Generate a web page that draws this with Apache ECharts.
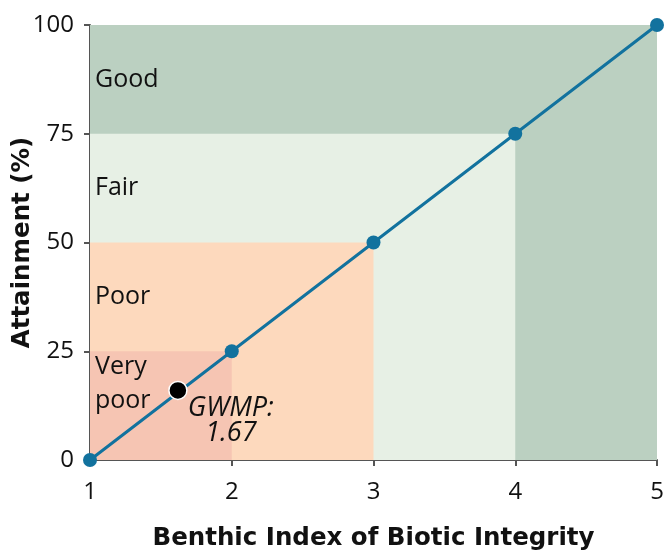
<!DOCTYPE html>
<html><head><meta charset="utf-8">
<script src="https://cdn.jsdelivr.net/npm/echarts@6/dist/echarts.min.js"></script>
<style>html,body{margin:0;padding:0;background:#fff}#c{width:665px;height:550px}</style>
</head><body><div id="c"></div>
<script>
const xTicks = [1, 2, 3, 4, 5];
const yTicks = [0, 25, 50, 75, 100];
const lineX = [1, 2, 3, 4, 5];
const lineY = [0, 25, 50, 75, 100];
const zoneNames = ['Good', 'Fair', 'Poor', 'Very\npoor'];
const zoneXmax = [5, 4, 3, 2];
const zoneYmax = [100, 75, 50, 25];
const zoneLabelY = [87.5, 62.5, 37.5, 17.5];
const gwmpX = 1.62;
const gwmpY = 16;
const gwmpLabel = 'GWMP:\n1.67';

const zoneColors = ['#bbd0c1', '#e7f0e5', '#fdd9bd', '#f6c5b3'];
const font = '"Open Sans", "Noto Sans", sans-serif';
const titleFont = '"DejaVu Sans", sans-serif';

const chart = echarts.init(document.getElementById('c'));
chart.setOption({
  animation: false,
  grid: { left: 90, right: 8, top: 25, bottom: 90, outerBoundsMode: 'none', containLabel: false },
  xAxis: {
    type: 'value', min: 1, max: 5, interval: 1,
    name: 'Benthic Index of Biotic Integrity', nameLocation: 'middle', nameGap: 66, nameMoveOverlap: false,
    nameTextStyle: { fontFamily: titleFont, fontWeight: 'bold', fontSize: 24.5, color: '#111' },
    axisLine: { show: true, onZero: false, lineStyle: { color: '#555', width: 2 } },
    axisTick: { show: true, length: 6, lineStyle: { color: '#555', width: 2 } },
    axisLabel: { fontFamily: font, fontSize: 24, color: '#111', margin: 20 },
    splitLine: { show: false }
  },
  yAxis: {
    type: 'value', min: 0, max: 100, interval: 25,
    name: 'Attainment (%)', nameLocation: 'middle', nameGap: 55, nameRotate: 90, nameMoveOverlap: false,
    nameTextStyle: { fontFamily: titleFont, fontWeight: 'bold', fontSize: 24.5, color: '#111' },
    axisLine: { show: true, lineStyle: { color: '#555', width: 2 } },
    axisTick: { show: true, length: 6, lineStyle: { color: '#555', width: 2 } },
    axisLabel: { fontFamily: font, fontSize: 24, color: '#111', margin: 16 },
    splitLine: { show: false }
  },
  series: [
    {
      type: 'line', z: 1, silent: true, data: [], symbol: 'none',
      markArea: {
        silent: true,
        data: zoneNames.map((n, i) => [
          { xAxis: 1, yAxis: 0, itemStyle: { color: zoneColors[i], opacity: 1 } },
          { xAxis: zoneXmax[i], yAxis: zoneYmax[i] }
        ])
      }
    },
    {
      type: 'scatter', z: 3, symbolSize: 0, silent: true,
      itemStyle: { opacity: 1 },
      data: zoneNames.map((n, i) => ({ value: [1, zoneLabelY[i]], name: n })),
      label: {
        show: true, position: 'right', distance: 5, opacity: 1,
        formatter: p => p.name,
        fontFamily: font, fontSize: 25, color: '#111', lineHeight: 34, align: 'left'
      }
    },
    {
      type: 'line', z: 4, data: lineX.map((x, i) => [x, lineY[i]]),
      symbol: 'circle', symbolSize: 14,
      lineStyle: { color: '#12729e', width: 3 },
      itemStyle: { color: '#12729e' }
    },
    {
      type: 'scatter', z: 5, data: [[gwmpX, gwmpY]],
      symbolSize: 18,
      itemStyle: { color: '#000', borderColor: '#fff', borderWidth: 1.5, opacity: 1 },
      label: {
        show: true, formatter: gwmpLabel, position: 'bottom', offset: [53, -9], opacity: 1,
        fontFamily: font, fontSize: 27, fontStyle: 'italic', color: '#111',
        lineHeight: 25, align: 'center'
      }
    }
  ]
});
</script></body></html>
